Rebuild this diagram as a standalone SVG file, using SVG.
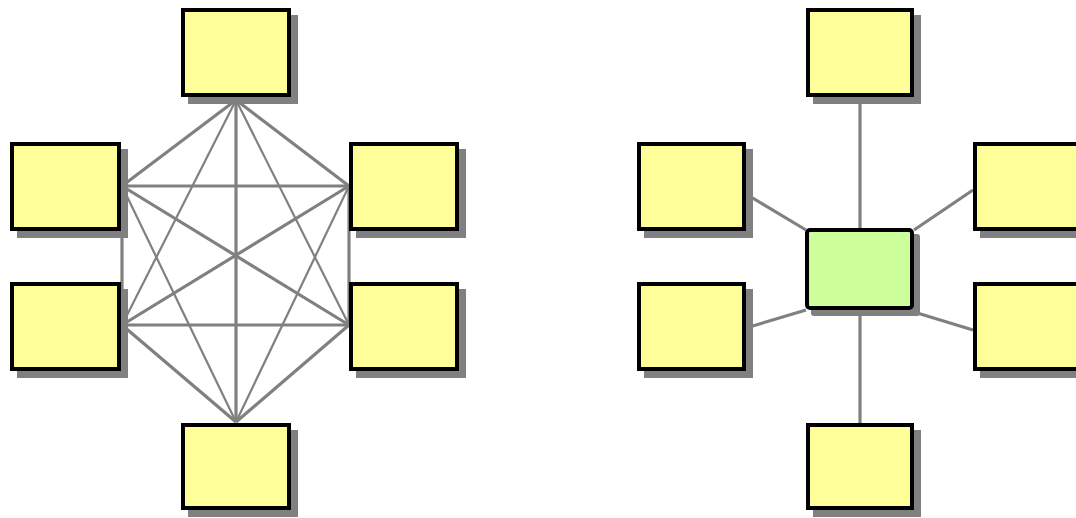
<svg xmlns="http://www.w3.org/2000/svg" width="1076" height="518" viewBox="0 0 1076 518">
<defs>
<style>
.sh{fill:#808080}
.box{fill:#ffff99;stroke:#000;stroke-width:4}
.hub{fill:#ccff99;stroke:#000;stroke-width:4}
.ln{stroke:#808080;stroke-width:3.2;fill:none}
.thin{stroke:#808080;stroke-width:2.2;fill:none}
</style>
</defs>
<rect width="1076" height="518" fill="#fff"/>
<g id="connectors">
<line class="ln" x1="236" y1="100" x2="236" y2="422"/>
<line class="ln" x1="236" y1="100" x2="122" y2="186"/>
<line class="ln" x1="236" y1="100" x2="349" y2="186"/>
<line class="thin" x1="236" y1="100" x2="122" y2="325"/>
<line class="thin" x1="236" y1="100" x2="349" y2="325"/>
<line class="ln" x1="236" y1="422" x2="122" y2="325"/>
<line class="ln" x1="236" y1="422" x2="349" y2="325"/>
<line class="thin" x1="236" y1="422" x2="122" y2="186"/>
<line class="thin" x1="236" y1="422" x2="349" y2="186"/>
<line class="ln" x1="122" y1="186" x2="122" y2="325"/>
<line class="ln" x1="349" y1="186" x2="349" y2="325"/>
<line class="ln" x1="122" y1="186" x2="349" y2="186"/>
<line class="ln" x1="122" y1="325" x2="349" y2="325"/>
<line class="ln" x1="122" y1="186" x2="349" y2="325"/>
<line class="ln" x1="122" y1="325" x2="349" y2="186"/>
<line class="ln" x1="860" y1="96" x2="860" y2="228"/>
<line class="ln" x1="860" y1="310" x2="860" y2="423"/>
<line class="ln" x1="746" y1="194" x2="806" y2="230"/>
<line class="ln" x1="746" y1="328" x2="806" y2="310"/>
<line class="ln" x1="914" y1="230" x2="973" y2="190"/>
<line class="ln" x1="914" y1="312" x2="973" y2="330"/>
</g>
<g id="m-top"><rect class="sh" x="188" y="15" width="110" height="89"/><rect class="box" x="183" y="10" width="106" height="85"/></g>
<g id="m-left1"><rect class="sh" x="17" y="149" width="111" height="89"/><rect class="box" x="12" y="144" width="107" height="85"/></g>
<g id="m-left2"><rect class="sh" x="17" y="289" width="111" height="89"/><rect class="box" x="12" y="284" width="107" height="85"/></g>
<g id="m-right1"><rect class="sh" x="356" y="149" width="110" height="89"/><rect class="box" x="351" y="144" width="106" height="85"/></g>
<g id="m-right2"><rect class="sh" x="356" y="289" width="110" height="89"/><rect class="box" x="351" y="284" width="106" height="85"/></g>
<g id="m-bottom"><rect class="sh" x="188" y="430" width="110" height="87"/><rect class="box" x="183" y="425" width="106" height="83"/></g>
<g id="s-top"><rect class="sh" x="813" y="15" width="108" height="89"/><rect class="box" x="808" y="10" width="104" height="85"/></g>
<g id="s-left1"><rect class="sh" x="644" y="149" width="109" height="89"/><rect class="box" x="639" y="144" width="105" height="85"/></g>
<g id="s-left2"><rect class="sh" x="644" y="289" width="109" height="89"/><rect class="box" x="639" y="284" width="105" height="85"/></g>
<g id="s-hub"><rect class="sh" x="811" y="234" width="109" height="82" rx="3"/><rect class="hub" x="807" y="230" width="105" height="78" rx="3"/></g>
<g id="s-right1"><rect class="sh" x="980" y="149" width="110" height="89"/><rect class="box" x="975" y="144" width="106" height="85"/></g>
<g id="s-right2"><rect class="sh" x="980" y="289" width="110" height="89"/><rect class="box" x="975" y="284" width="106" height="85"/></g>
<g id="s-bottom"><rect class="sh" x="813" y="430" width="108" height="87"/><rect class="box" x="808" y="425" width="104" height="83"/></g>
</svg>
